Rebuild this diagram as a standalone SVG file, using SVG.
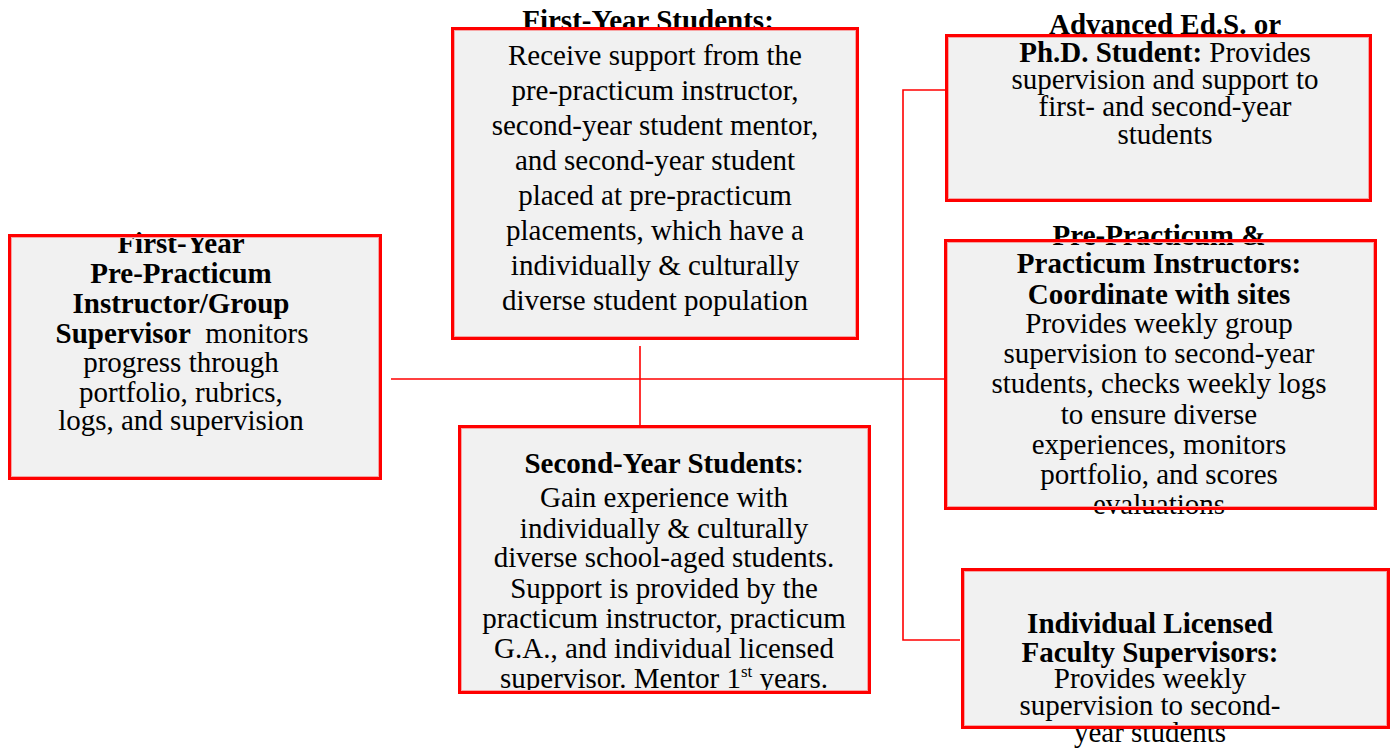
<svg xmlns="http://www.w3.org/2000/svg" width="1397" height="752" viewBox="0 0 1397 752">
<style>
.fill{fill:#f1f1f1;stroke:none}
.bd{fill:none;stroke:#ff0000;stroke-width:3}
.bi{fill:none;stroke:#f6a5a5;stroke-width:1}
text{font-family:"Liberation Serif","Times New Roman",serif;font-size:29px;fill:#000;text-anchor:middle}
.b{font-weight:bold}
.c{stroke:#ff0000;stroke-width:1.6;fill:none}
</style>
<rect width="1397" height="752" fill="#fff"/>
<g id="connectors">
<line class="c" x1="391" y1="379" x2="944" y2="379"/>
<line class="c" x1="640" y1="346" x2="640" y2="425"/>
<polyline class="c" points="945,90 903,90 903,640 960,640"/>
</g>
<g id="n1">
<rect class="fill" x="9" y="235" width="372" height="243"/>
<text x="181" y="253"><tspan class="b">First-Year</tspan><tspan class="b" x="181" y="283">Pre-Practicum</tspan><tspan class="b" x="181" y="313">Instructor/Group</tspan><tspan x="182" y="343"><tspan class="b">Supervisor</tspan>&#160; monitors</tspan><tspan x="181" y="372">progress through</tspan><tspan x="181" y="402">portfolio, rubrics,</tspan><tspan x="181" y="430">logs, and supervision</tspan></text>
<rect class="bd" x="9.5" y="235.5" width="371" height="243"/>
<rect class="bi" x="11.5" y="237.5" width="367" height="239"/>
</g>
<g id="n2">
<rect class="fill" x="452" y="28" width="406" height="310"/>
<text x="648" y="30" class="b">First-Year Students:</text>
<text x="655" y="65">Receive support from the<tspan x="655" y="100">pre-practicum instructor,</tspan><tspan x="655" y="135">second-year student mentor,</tspan><tspan x="655" y="170">and second-year student</tspan><tspan x="655" y="205">placed at pre-practicum</tspan><tspan x="655" y="240">placements, which have a</tspan><tspan x="655" y="275">individually &amp; culturally</tspan><tspan x="655" y="310">diverse student population</tspan></text>
<rect class="bd" x="452.5" y="28.5" width="405" height="310"/>
<rect class="bi" x="454.5" y="30.5" width="401" height="306"/>
</g>
<g id="n3">
<rect class="fill" x="459" y="426" width="411" height="266"/>
<text x="664" y="473"><tspan class="b">Second-Year Students</tspan>:<tspan x="664" y="507">Gain experience with</tspan><tspan x="664" y="538">individually &amp; culturally</tspan><tspan x="664" y="567">diverse school-aged students.</tspan><tspan x="664" y="598">Support is provided by the</tspan><tspan x="664" y="628">practicum instructor, practicum</tspan><tspan x="664" y="658">G.A., and individual licensed</tspan><tspan x="664" y="688">supervisor. Mentor 1<tspan font-size="17" dy="-11">st</tspan><tspan dy="11"> years.</tspan></tspan></text>
<rect class="bd" x="459.5" y="426.5" width="410" height="266"/>
<rect class="bi" x="461.5" y="428.5" width="406" height="262"/>
</g>
<g id="n4">
<rect class="fill" x="946" y="35" width="425" height="166"/>
<text x="1165" y="34" class="b">Advanced Ed.S. or</text>
<text x="1165" y="62"><tspan class="b">Ph.D. Student:</tspan> Provides<tspan x="1165" y="89">supervision and support to</tspan><tspan x="1165" y="116">first- and second-year</tspan><tspan x="1165" y="144">students</tspan></text>
<rect class="bd" x="946.5" y="35.5" width="424" height="165"/>
<rect class="bi" x="948.5" y="37.5" width="420" height="161"/>
</g>
<g id="n5">
<rect class="fill" x="945" y="240" width="431" height="268"/>
<text x="1159" y="245" class="b">Pre-Practicum &amp;<tspan x="1159" y="273">Practicum Instructors:</tspan><tspan x="1159" y="304">Coordinate with sites</tspan></text>
<text x="1159" y="333">Provides weekly group<tspan x="1159" y="363">supervision to second-year</tspan><tspan x="1159" y="393">students, checks weekly logs</tspan><tspan x="1159" y="424">to ensure diverse</tspan><tspan x="1159" y="454">experiences, monitors</tspan><tspan x="1159" y="484">portfolio, and scores</tspan><tspan x="1159" y="514">evaluations</tspan></text>
<rect class="bd" x="945.5" y="240.5" width="430" height="268"/>
<rect class="bi" x="947.5" y="242.5" width="426" height="264"/>
</g>
<g id="n6">
<rect class="fill" x="962" y="569" width="427" height="158"/>
<text x="1150" y="633" class="b">Individual Licensed<tspan x="1150" y="662">Faculty Supervisors:</tspan></text>
<text x="1150" y="688">Provides weekly<tspan x="1150" y="715">supervision to second-</tspan><tspan x="1150" y="742">year students</tspan></text>
<rect class="bd" x="962.5" y="569.5" width="426" height="158"/>
<rect class="bi" x="964.5" y="571.5" width="422" height="154"/>
</g>
</svg>
